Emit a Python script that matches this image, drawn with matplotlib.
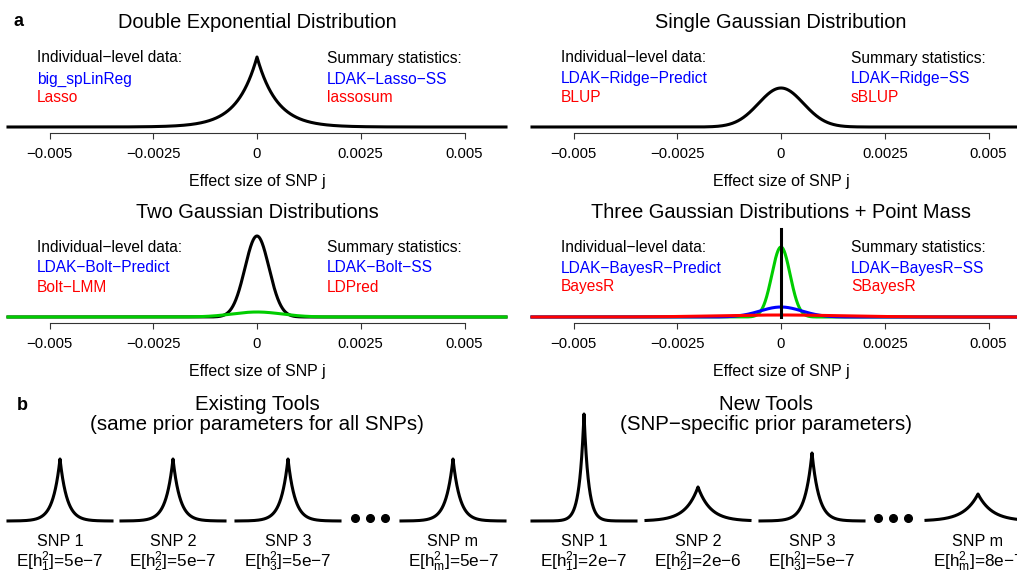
import numpy as np
import matplotlib.pyplot as plt

W, H = 1017, 571
plt.rcParams['font.family'] = ['Liberation Sans', 'DejaVu Sans']

BLUE = '#0000FF'
RED = '#FF0000'
GREEN = '#00CD00'

# panel a: tick values and labels
tick_vals = [-0.005, -0.0025, 0, 0.0025, 0.005]
tick_labels = ['\u22120.005', '\u22120.0025', '0', '0.0025', '0.005']

# panel a: distribution parameters (scale, relative peak height)
dexp_scale, dexp_height = 0.00048, 70
single_sd, single_height = 0.00054, 39
two_sd = [0.00029, 0.0006]
two_height = [81, 5]
two_colors = ['black', GREEN]
three_sd = [0.00022, 0.0005, 0.0015]
three_height = [70, 10, 2]
three_colors = [GREEN, BLUE, RED]
point_mass_height = 88

# method names per panel: (individual blue, individual red, summary blue, summary red)
methods = [
    ['big_spLinReg', 'Lasso', 'LDAK\u2212Lasso\u2212SS', 'lassosum'],
    ['LDAK\u2212Ridge\u2212Predict', 'BLUP', 'LDAK\u2212Ridge\u2212SS', 'sBLUP'],
    ['LDAK\u2212Bolt\u2212Predict', 'Bolt\u2212LMM', 'LDAK\u2212Bolt\u2212SS', 'LDPred'],
    ['LDAK\u2212BayesR\u2212Predict', 'BayesR', 'LDAK\u2212BayesR\u2212SS', 'SBayesR'],
]
titles = ['Double Exponential Distribution', 'Single Gaussian Distribution',
          'Two Gaussian Distributions', 'Three Gaussian Distributions + Point Mass']

# panel b: per-SNP laplace priors (relative scale, relative peak height)
snp_names = ['SNP 1', 'SNP 2', 'SNP 3', 'SNP m']
snp_subs = ['1', '2', '3', 'm']
old_values = ['5e\u22127', '5e\u22127', '5e\u22127', '5e\u22127']
old_scale = [0.135, 0.135, 0.135, 0.135]
old_height = [62, 62, 62, 62]
new_values = ['2e\u22127', '2e\u22126', '5e\u22127', '8e\u22127']
new_scale = [0.087, 0.24, 0.135, 0.27]
new_height = [107, 34, 68, 27]

fig = plt.figure(figsize=(W / 100, H / 100), dpi=100)


def add_ax(left, top, width, height):
    return fig.add_axes([left / W, 1 - (top + height) / H, width / W, height / H])


def put(x, y, s, **kw):
    kw.setdefault('va', 'center')
    fig.text(x / W, 1 - y / H, s, **kw)


def gauss(x, sd, h):
    return h * np.exp(-0.5 * (x / sd) ** 2)


def laplace(x, b, h):
    return h * np.exp(-np.abs(x) / b)


x = np.linspace(-0.006, 0.006, 2401)
centers = [257, 781]
baselines = [127, 317]
title_y = [22, 213]
text_y = [[58, 79, 98], [248, 268, 287]]

axes = []
for i in range(4):
    r, c = divmod(i, 2)
    cx = centers[c]
    ax = add_ax(cx - 249, baselines[r] - 100, 498, 100)
    ax.set_xlim(-0.006, 0.006)
    ax.set_ylim(0, 100)
    for s in ['top', 'right', 'left']:
        ax.spines[s].set_visible(False)
    ax.spines['bottom'].set_position(('outward', 4.3))
    ax.spines['bottom'].set_bounds(-0.005, 0.005)
    ax.spines['bottom'].set_color('#333333')
    ax.spines['bottom'].set_linewidth(0.8)
    ax.set_yticks([])
    ax.set_xticks(tick_vals)
    ax.set_xticklabels(tick_labels)
    ax.tick_params(axis='x', direction='out', length=4.3, width=0.8,
                   color='#333333', pad=5.5, labelsize=10.7)
    ax.set_xlabel('Effect size of SNP j', fontsize=11.5, labelpad=9.6)
    ax.patch.set_visible(False)
    axes.append(ax)

    put(cx, title_y[r], titles[i], ha='center', fontsize=14.4)
    lx = cx - 220
    sx = cx + 70
    put(lx, text_y[r][0], 'Individual\u2212level data:', fontsize=11.2)
    put(lx, text_y[r][1], methods[i][0], fontsize=11.2, color=BLUE)
    put(lx, text_y[r][2], methods[i][1], fontsize=11.2, color=RED)
    put(sx, text_y[r][0], 'Summary statistics:', fontsize=11.2)
    put(sx, text_y[r][1], methods[i][2], fontsize=11.2, color=BLUE)
    put(sx, text_y[r][2], methods[i][3], fontsize=11.2, color=RED)

lw = 2.2
axes[0].plot(x, laplace(x, dexp_scale, dexp_height), color='black', lw=lw, clip_on=False)
axes[1].plot(x, gauss(x, single_sd, single_height), color='black', lw=lw, clip_on=False)
for sd, h, col in zip(two_sd, two_height, two_colors):
    axes[2].plot(x, gauss(x, sd, h), color=col, lw=lw, clip_on=False)
for sd, h, col in zip(three_sd, three_height, three_colors):
    axes[3].plot(x, gauss(x, sd, h), color=col, lw=lw, clip_on=False)
axes[3].plot([0, 0], [0, point_mass_height], color='black', lw=lw, clip_on=False)

put(18, 22, 'a', fontsize=13, fontweight='bold', ha='center')
put(22, 405, 'b', fontsize=13, fontweight='bold', ha='center')

# panel b
put(257, 405, 'Existing Tools', ha='center', fontsize=14.8)
put(257, 425, '(same prior parameters for all SNPs)', ha='center', fontsize=14.8)
put(766, 405, 'New Tools', ha='center', fontsize=14.8)
put(766, 425, '(SNP\u2212specific prior parameters)', ha='center', fontsize=14.8)

xs = np.linspace(-1, 1, 801)
groups = [
    ([60, 173, 288, 453], old_scale, old_height, old_values, 370),
    ([584, 698, 812, 978], new_scale, new_height, new_values, 893),
]
for cxs, scales, heights, values, dots_x in groups:
    for k in range(4):
        ax = add_ax(cxs[k] - 52, 521 - 110, 104, 110)
        ax.set_xlim(-1, 1)
        ax.set_ylim(0, 110)
        ax.axis('off')
        ax.plot(xs, laplace(xs, scales[k], heights[k]), color='black', lw=lw, clip_on=False)
        put(cxs[k], 542, snp_names[k], ha='center', fontsize=11.6)
        put(cxs[k], 562, r'E[$\mathregular{h^2_{%s}}$]=%s' % (snp_subs[k], values[k]),
            ha='center', fontsize=12.3)
    dax = add_ax(dots_x - 30, 508, 60, 20)
    dax.set_xlim(0, 4)
    dax.set_ylim(0, 2)
    dax.axis('off')
    dax.plot([1, 2, 3], [1, 1, 1], 'o', color='black', ms=5.5)

fig.savefig('out.png', dpi=100)
